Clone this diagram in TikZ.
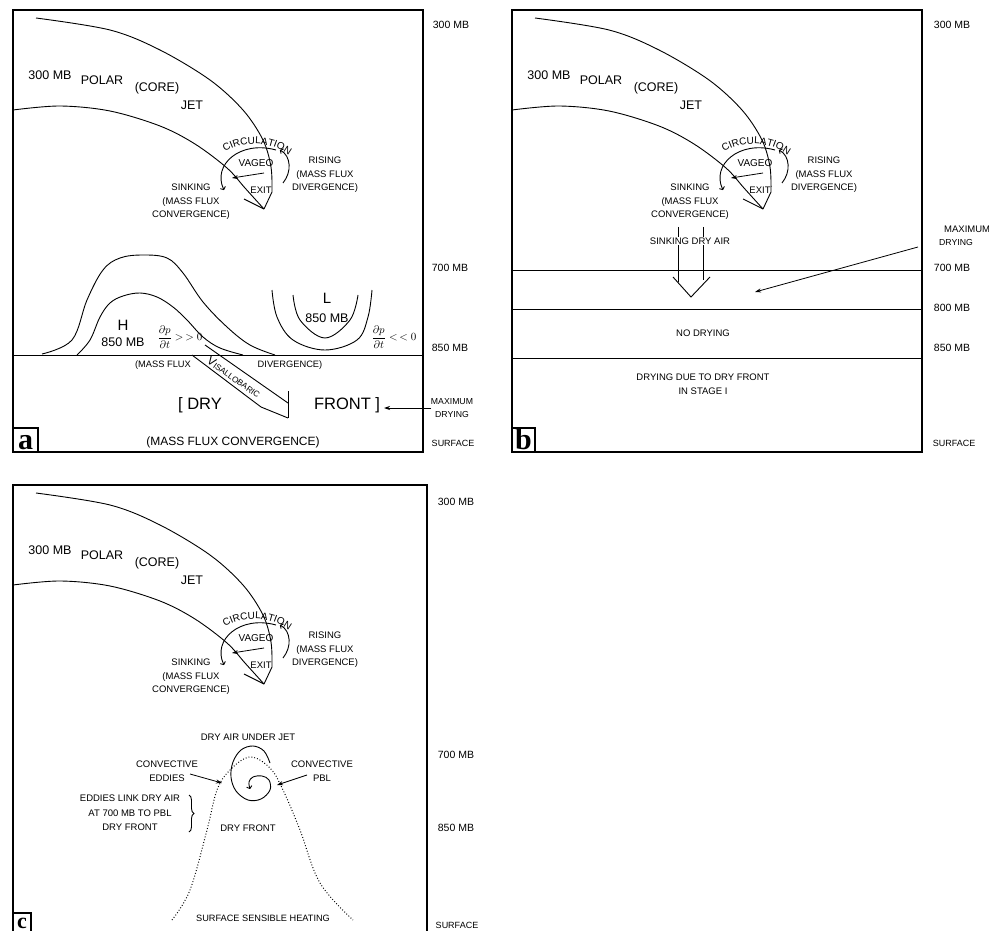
\documentclass[tikz,border=0pt]{standalone}
\usepackage{fontspec}
\setmainfont{Liberation Sans}
\newfontfamily\labelfont{Liberation Serif}
\usetikzlibrary{arrows.meta,decorations.text,decorations.pathreplacing}
\newcommand\myfs[1]{\fontsize{#1}{#1}\selectfont}
\tikzset{
  curve/.style={line width=0.9pt},
  frame/.style={line width=1.3pt},
  lbl/.style={inner sep=0pt, align=center, font=\myfs{9.5}},
  ml/.style={inner sep=0pt, align=center, font=\fontsize{9.5}{13.5}\selectfont},
  jl/.style={inner sep=0pt, font=\myfs{12.5}},
  rl/.style={inner sep=0pt, align=center, font=\myfs{10.5}},
  rs/.style={inner sep=0pt, align=center, font=\myfs{8.7}},
  arr/.style={line width=0.8pt, -{Stealth[length=6pt,width=4pt]}},
  carr/.style={line width=0.9pt, -{To[length=3pt,width=6pt]}},
  panelbox/.style={line width=1.6pt},
  panelletter/.style={inner sep=0pt, anchor=base, font=\labelfont\bfseries\myfs{30}},
  dpdt/.style={inner sep=0pt, font=\myfs{11}},
}
\newcommand\jetdiagram{%
  \draw[curve] plot[smooth,tension=0.55] coordinates {(36,18) (110,30) (160,50) (210,80) (243,110) (263,140) (271,167) (272,192)} -- (264,209);
  \draw[curve] plot[smooth,tension=0.55] coordinates {(13,110) (60,106) (110,111) (160,126) (195,144) (227,168) (245,188) (264,209)};
  \draw[curve] (244,199) -- (264,209);
  \draw[carr] (276,150) .. controls (240,140) and (212,165) .. (224,190);
  \draw[carr] (283,183) .. controls (292,172) and (291,156) .. (280,150);
  \path[decorate,decoration={text along path,text={|\myfs{10}|CIRCULATION},text align=center}]
    (218,157) .. controls (240.8,138.1) and (274.4,139.8) .. (295.3,160.7);
  \node[jl] (mb) at (50,75) {300 MB};
  \node[jl] (polar) at (102,80) {POLAR};
  \node[jl] (core) at (157,88) {(CORE)};
  \node[jl] (jet) at (192,105) {JET};
  \node[lbl,font=\myfs{10}] (vageo) at (256,163) {VAGEO};
  \draw[arr] (264,173) -- (232,178);
  \node[lbl] (exit) at (261,190) {EXIT};
  \node[ml] (sink) at (191,202) {SINKING\\(MASS FLUX\\CONVERGENCE)};
  \node[ml] (rise) at (325,175) {RISING\\(MASS FLUX\\DIVERGENCE)};
}
\begin{document}
\begin{tikzpicture}[x=1pt,y=-1pt]
\useasboundingbox (0,0) rectangle (989,931);
\clip (0,0) rectangle (989,931);
\fill[white] (0,0) rectangle (989,931);

% ================= PANEL A =================
\begin{scope}[name prefix=a-]
  \draw[frame] (13,10) rectangle (423,452);
  \jetdiagram
  \draw[curve] (13,355) -- (423,355);
  % H hills
  \draw[curve] plot[smooth,tension=0.6] coordinates {(42,354) (72,340) (87,300) (103,270) (120,258) (143,255) (167,258) (183,273) (203,302) (227,327) (250,345) (275,355)};
  \draw[curve] plot[smooth,tension=0.6] coordinates {(77,355) (90,340) (100,317) (110,303) (123,296) (140,293) (157,297) (173,307) (187,320) (203,337) (220,348) (243,355)};
  % L
  \draw[curve] plot[smooth,tension=0.6] coordinates {(272,290) (277,317) (293,340) (325,350) (357,340) (368,317) (372,290)};
  \draw[curve] plot[smooth,tension=0.6] coordinates {(293,295) (300,320) (325,338) (350,320) (358,295)};
  \node[inner sep=0pt,font=\myfs{15}] (H) at (123,325) {H};
  \node[jl] (Hmb) at (123,342) {850 MB};
  \node[inner sep=0pt,font=\myfs{15}] (L) at (327,298) {L};
  \node[jl] (Lmb) at (327,318) {850 MB};
  \node[dpdt] (dpa) at (180,337) {$\displaystyle\frac{\partial p}{\partial t}\mathrel{>\,>}0$};
  \node[dpdt] (dpb) at (394,337) {$\displaystyle\frac{\partial p}{\partial t}\mathrel{<\,<}0$};
  \node[lbl,font=\myfs{9.3}] (mf) at (163,365) {(MASS FLUX};
  \node[lbl,font=\myfs{9.3}] (dv) at (290,365) {DIVERGENCE)};
  % isallobaric arrow
  \draw[curve] (205,345) -- (288,403);
  \draw[curve] (288,391) -- (288,418);
  \draw[curve] (192,355) -- (261,407) -- (288,418);
  \node[inner sep=0pt,rotate=-35,font=\myfs{8.3}] (isa) at (234,377) {{\myfs{12}V}ISALLOBARIC};
  \node[inner sep=0pt,font=\myfs{16.5}] (dry) at (200,405) {[ DRY};
  \node[inner sep=0pt,font=\myfs{16.5}] (front) at (347,405) {FRONT ]};
  \coordinate (maxa) at (431,408);
  \coordinate (maxat) at (384,408);
  \draw[arr] (maxa) -- (maxat);
  \node[lbl,font=\myfs{12}] (mfc) at (233,442) {(MASS FLUX CONVERGENCE)};
  % right labels
  \node[rl] (r300) at (451,25) {300 MB};
  \node[rl] (r700) at (450,268) {700 MB};
  \node[rl] (r850) at (450,348) {850 MB};
  \node[rs] (rmax) at (452,402) {MAXIMUM};
  \node[rs] (rdry) at (452,415) {DRYING};
  \node[rs,font=\myfs{9}] (rsurf) at (453,443) {SURFACE};
  \draw[panelbox] (13,428) rectangle (38,452);
  \node[panelletter] (la) at (25.5,449) {a};
\end{scope}

% ================= PANEL B =================
\begin{scope}[name prefix=b-]
  \draw[frame] (512,10) rectangle (922,452);
  \begin{scope}[shift={(499,0)}]
    \jetdiagram
  \end{scope}
  \draw[curve] (512,270) -- (922,270);
  \draw[curve] (512,309) -- (922,309);
  \draw[curve] (512,358) -- (922,358);
  \draw[curve] (678,227) -- (678,282);
  \draw[curve] (703,227) -- (703,280);
  \draw[curve] (673,277) -- (691,297) -- (710,277);
  \node[lbl,fill=white,inner sep=1pt] (sda) at (690,241) {SINKING DRY AIR};
  \coordinate (maxb) at (918,247);
  \coordinate (maxbt) at (755,292);
  \draw[arr] (maxb) -- (maxbt);
  \node[lbl] (nod) at (703,333) {NO DRYING};
  \node[ml] (ddf) at (703,384) {DRYING DUE TO DRY FRONT\\IN STAGE I};
  \node[rl] (r300) at (952,25) {300 MB};
  \node[rs,anchor=west,font=\myfs{9.5}] (rmax) at (944,229) {MAXIMUM};
  \node[rs] (rdry) at (956,243) {DRYING};
  \node[rl] (r700) at (952,268) {700 MB};
  \node[rl] (r800) at (952,308) {800 MB};
  \node[rl] (r850) at (952,348) {850 MB};
  \node[rs,font=\myfs{9}] (rsurf) at (954,443) {SURFACE};
  \draw[panelbox] (512,428) rectangle (535,452);
  \node[panelletter] (lb) at (523.5,449) {b};
\end{scope}

% ================= PANEL C =================
\begin{scope}[name prefix=c-]
  \draw[frame] (13,485) rectangle (427,933);
  \begin{scope}[shift={(0,475)}]
    \jetdiagram
  \end{scope}
  \node[lbl] (dauj) at (248,737) {DRY AIR UNDER JET};
  \draw[curve, dotted, line width=1pt] plot[smooth,tension=0.6] coordinates {(172,920) (190,890) (207,830) (217,790) (230,770) (250,757) (270,768) (283,790) (300,830) (320,883) (353,920)};
  \draw[curve,-{To[length=3pt,width=6pt]}] plot[smooth,tension=0.6] coordinates {(270,763) (264,751) (253,746) (241,750) (233,762) (231,777) (236,791) (248,800) (261,799) (270,790) (269,780) (262,776) (253,777) (249,782) (250,789)};
  \node[ml] (ce) at (167,771) {CONVECTIVE\\EDDIES};
  \node[ml] (cp) at (322,771) {CONVECTIVE\\PBL};
  \coordinate (cet) at (222,783);
  \coordinate (cpt) at (277,785);
  \draw[arr] (190,774) -- (cet);
  \draw[arr] (307,775) -- (cpt);
  \node[ml,font=\fontsize{9.5}{14.5}\selectfont] (link) at (130,813) {EDDIES LINK DRY AIR\\AT 700 MB TO PBL\\DRY FRONT};
  \draw[curve,decorate,decoration={brace,amplitude=5pt}] (189,795) -- (189,832);
  \node[lbl] (dfr) at (248,828) {DRY FRONT};
  \node[lbl,font=\myfs{9.2}] (ssh) at (263,918) {SURFACE SENSIBLE HEATING};
  \node[rl] (r300) at (456,502) {300 MB};
  \node[rl] (r700) at (456,755) {700 MB};
  \node[rl] (r850) at (456,828) {850 MB};
  \node[rs,font=\myfs{9}] (rsurf) at (457,925) {SURFACE};
  \draw[panelbox] (13,913) rectangle (31,935);
  \node[panelletter,font=\labelfont\bfseries\myfs{22}] (lc) at (22,928) {c};
\end{scope}
\end{tikzpicture}
\end{document}
